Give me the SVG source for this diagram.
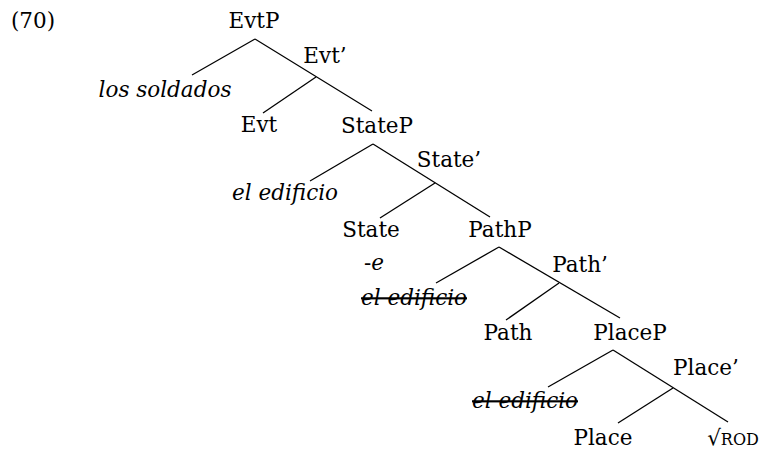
<svg xmlns="http://www.w3.org/2000/svg" width="765" height="450" viewBox="0 0 765 450">
<style>
text{font-family:"DejaVu Serif","Liberation Serif",serif;font-size:21.5px;fill:#000;text-anchor:middle}
.it{font-style:italic}
.st{text-decoration:line-through}
.sc{font-size:16px}
#edges line{stroke:#000;stroke-width:1.3}
</style>
<rect width="765" height="450" fill="#fff"/>
<text x="33" y="28">(70)</text>
<g id="edges">
<line x1="255" y1="39" x2="192" y2="75"/>
<line x1="255" y1="39" x2="372" y2="111"/>
<line x1="316" y1="77" x2="263" y2="113"/>
<line x1="373" y1="144" x2="310" y2="181"/>
<line x1="373" y1="144" x2="490" y2="217"/>
<line x1="435" y1="183" x2="380" y2="218"/>
<line x1="499" y1="247" x2="436" y2="283"/>
<line x1="499" y1="247" x2="620" y2="318"/>
<line x1="559" y1="283" x2="506" y2="320"/>
<line x1="613" y1="350" x2="548" y2="387"/>
<line x1="613" y1="350" x2="728" y2="422"/>
<line x1="673" y1="388" x2="618" y2="423"/>
</g>
<g id="EvtP"><text x="254" y="28">EvtP</text></g>
<g id="EvtBar"><text x="325" y="63">Evt’</text></g>
<g id="los-soldados"><text class="it" x="165" y="97">los soldados</text></g>
<g id="Evt"><text x="259" y="132">Evt</text></g>
<g id="StateP"><text x="377" y="133">StateP</text></g>
<g id="StateBar"><text x="449" y="167">State’</text></g>
<g id="el-edificio-1"><text class="it" x="285" y="200">el edificio</text></g>
<g id="State"><text x="371" y="237">State</text><text x="374" y="270">-<tspan class="it">e</tspan></text></g>
<g id="PathP"><text x="500" y="237">PathP</text></g>
<g id="PathBar"><text x="580" y="272">Path’</text></g>
<g id="el-edificio-2"><text class="it st" x="414" y="305">el edificio</text></g>
<g id="Path"><text x="508" y="340">Path</text></g>
<g id="PlaceP"><text x="630" y="340">PlaceP</text></g>
<g id="PlaceBar"><text x="706" y="375">Place’</text></g>
<g id="el-edificio-3"><text class="it st" x="525" y="408">el edificio</text></g>
<g id="Place"><text x="603" y="445">Place</text></g>
<g id="ROD"><text x="733" y="445">√<tspan class="sc">ROD</tspan></text></g>
</svg>
